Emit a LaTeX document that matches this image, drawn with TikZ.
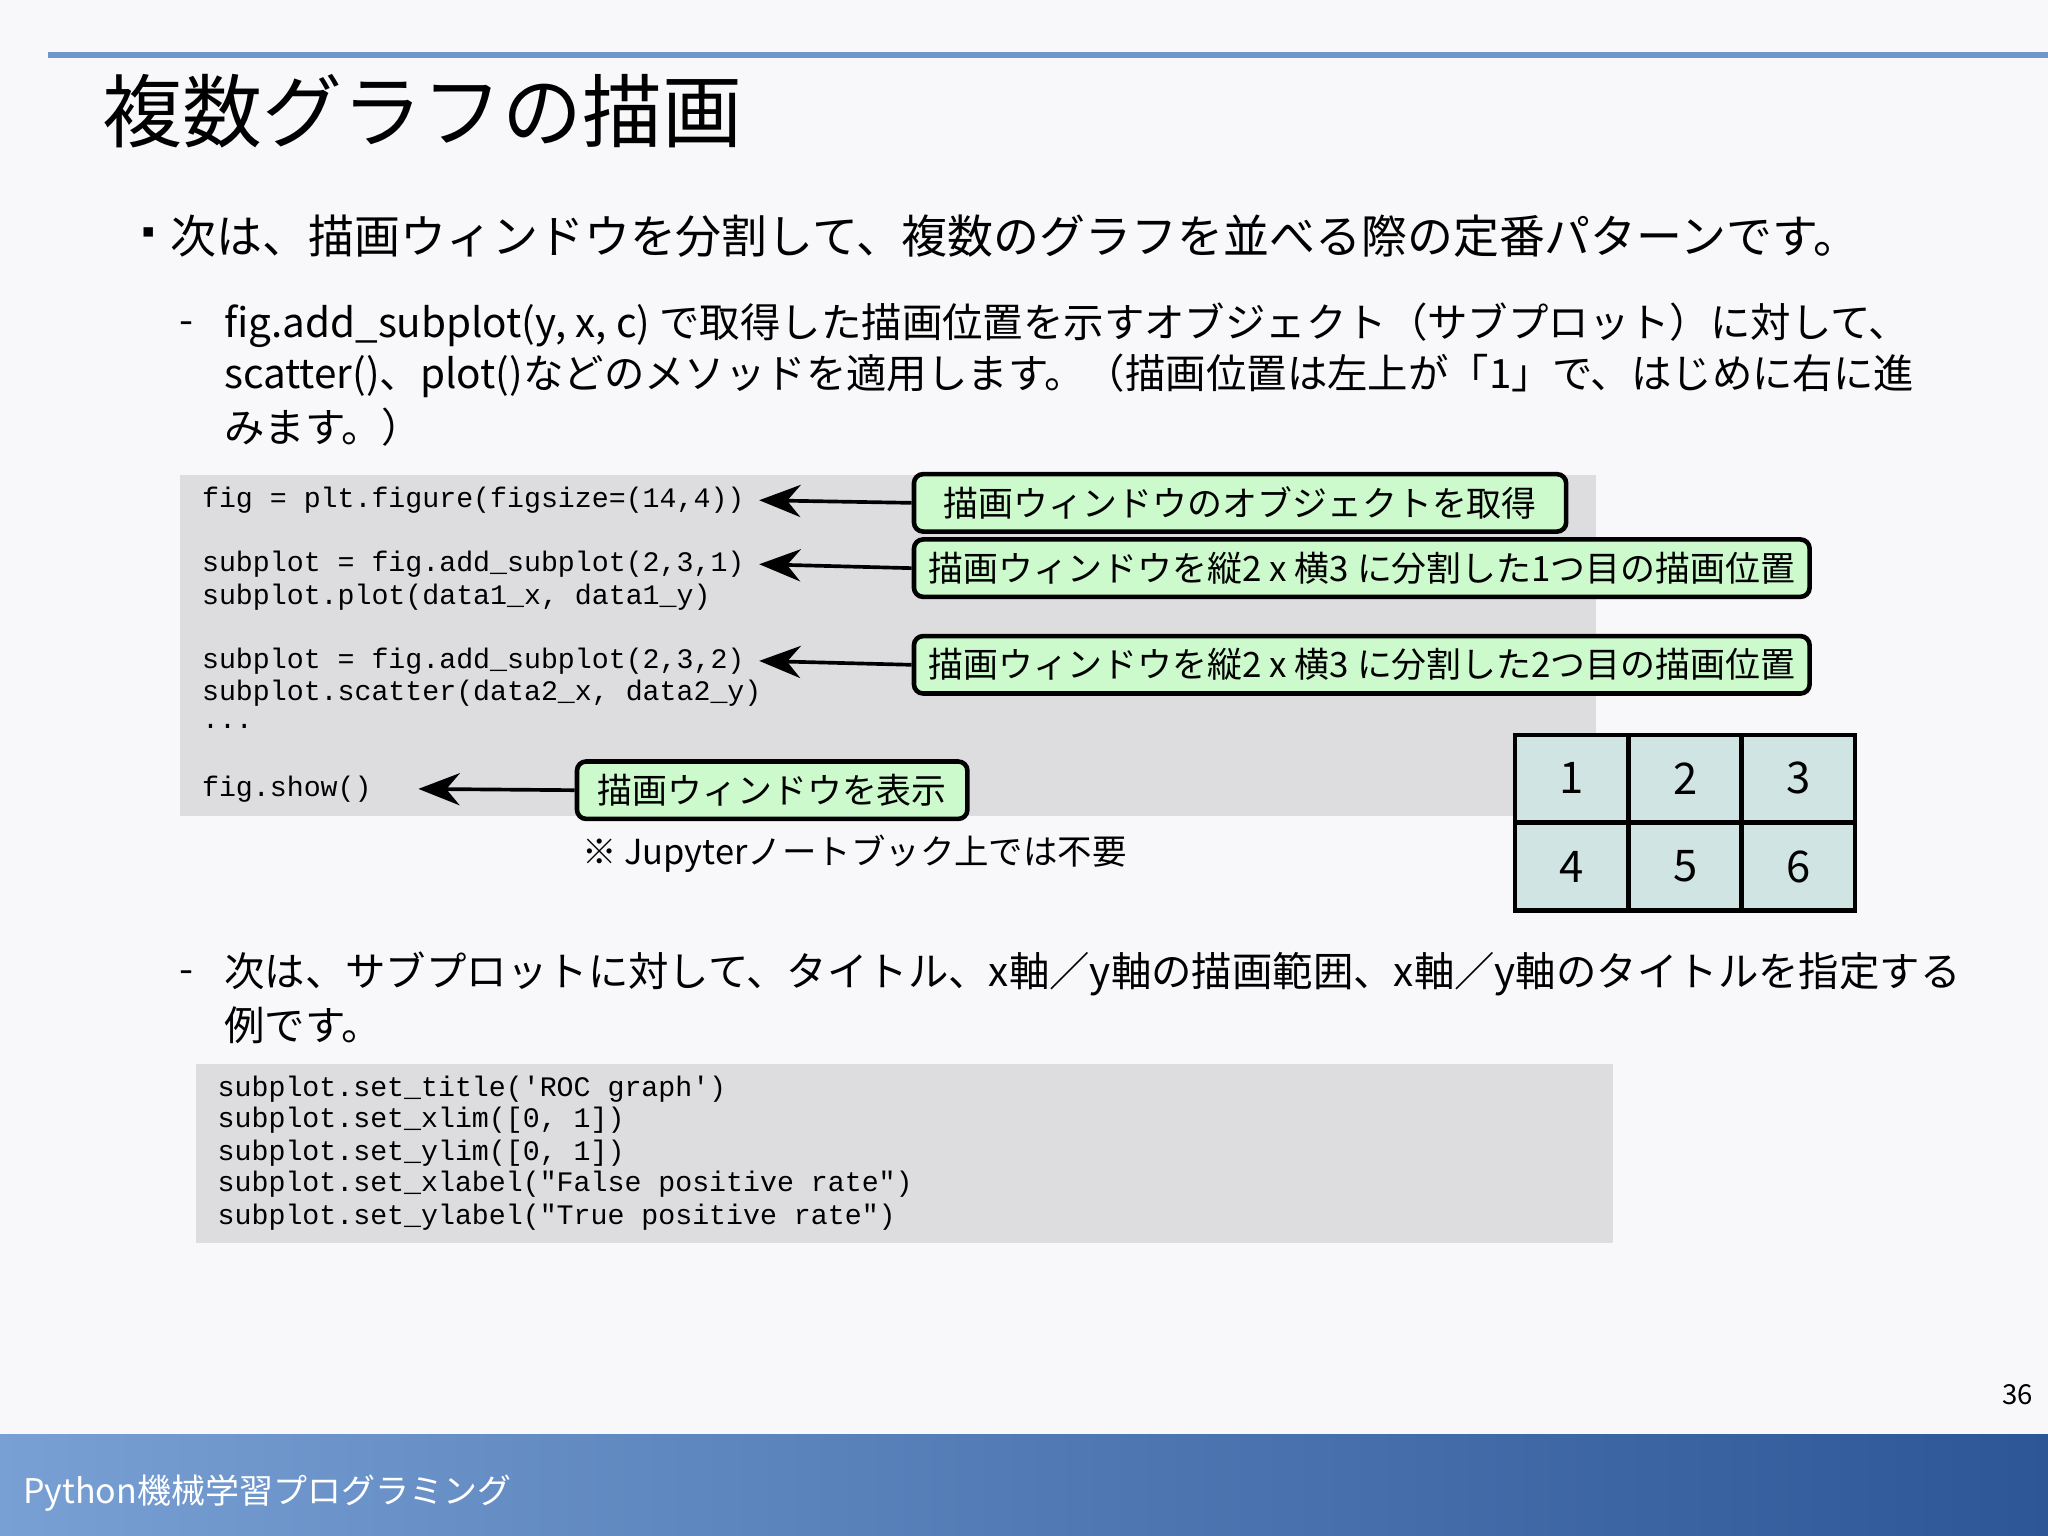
\documentclass[tikz,border=0pt]{standalone}
\usepackage{fontspec}
\usepackage{xcolor}
\setmainfont{Noto Sans CJK JP}
\setmonofont{Liberation Mono}
\usetikzlibrary{arrows.meta}
\definecolor{slidebg}{RGB}{248,248,250}
\definecolor{rulebl}{RGB}{110,150,205}
\definecolor{codebg}{RGB}{221,221,224}
\definecolor{notegr}{RGB}{204,250,204}
\definecolor{cellbl}{RGB}{208,228,228}
\definecolor{footl}{RGB}{120,160,212}
\definecolor{footd}{RGB}{44,86,150}
\tikzset{
  txt/.style={anchor=west, inner sep=0pt, font=\fontsize{8.8}{11}\selectfont},
  code/.style={anchor=west, inner sep=0pt, font=\ttfamily\fontsize{6.15}{7}\selectfont},
  note/.style={draw=black, line width=1pt, fill=notegr, rounded corners=2pt, anchor=west,
    inner sep=0pt, minimum height=12.5pt, font=\fontsize{7.6}{9}\selectfont},
  ptr/.style={-{Stealth[length=9pt,width=7pt]}, line width=0.8pt},
  cell/.style={draw=black, line width=1pt, fill=cellbl, minimum width=24.7pt,
    minimum height=19pt, inner sep=0pt, font=\fontsize{9.5}{10}\selectfont}
}
\begin{document}
\begin{tikzpicture}[x=0.01cm, y=-0.01cm]
\useasboundingbox (0,0) rectangle (1568,1176);
\fill[slidebg] (0,0) rectangle (1568,1176);
% heading
\draw[rulebl, line width=1.2pt] (37,42) -- (1568,42);
\node[txt, font=\fontsize{17.4}{20}\selectfont] (title) at (78,85) {複数グラフの描画};
% body text
\node[txt, font=\fontsize{7.5}{8}\selectfont] (bul) at (100,181) {▪};
\node[txt, font=\fontsize{10}{11}\selectfont] (t1) at (130,181) {次は、描画ウィンドウを分割して、複数のグラフを並べる際の定番パターンです。};
\node[txt] (d1) at (137,251) {-};
\node[txt] (t2) at (171,249) {fig.add\_subplot(y, x, c) で取得した描画位置を示すオブジェクト（サブプロット）に対して、};
\node[txt] (t3) at (171,288) {scatter()、plot()などのメソッドを適用します。（描画位置は左上が「1」で、はじめに右に進};
\node[txt] (t4) at (171,327) {みます。）};
% first code block
\fill[codebg] (138,364) rectangle (1222,625);
\node[code] (c1) at (154,383) {fig = plt.figure(figsize=(14,4))};
\node[code] (c2) at (154,432) {subplot = fig.add\_subplot(2,3,1)};
\node[code] (c3) at (154,457) {subplot.plot(data1\_x, data1\_y)};
\node[code] (c4) at (154,506) {subplot = fig.add\_subplot(2,3,2)};
\node[code] (c5) at (154,531) {subplot.scatter(data2\_x, data2\_y)};
\node[code] (c6) at (154,556) {...};
\node[code] (c7) at (154,604) {fig.show()};
% notes
\node[note, minimum width=142pt] (n1) at (698,385) {描画ウィンドウのオブジェクトを取得};
\node[note, minimum width=195pt] (n2) at (698,435) {描画ウィンドウを縦2 x 横3 に分割した1つ目の描画位置};
\node[note, minimum width=195pt] (n3) at (698,509) {描画ウィンドウを縦2 x 横3 に分割した2つ目の描画位置};
\node[note, minimum width=85pt] (n4) at (440,605) {描画ウィンドウを表示};
\draw[ptr] (n1.west) -- ([xshift=3pt]c1.east);
\draw[ptr] (n2.west) -- ([xshift=3pt]c2.east);
\draw[ptr] (n3.west) -- ([xshift=3pt]c4.east);
\draw[ptr] (n4.west) -- ([xshift=10pt]c7.east);
\node[txt, font=\fontsize{7.5}{10}\selectfont] (nb) at (445,654) {※ Jupyterノートブック上では不要};
% grid of subplots
\foreach \n/\c/\r in {1/0/0,2/1/0,3/2/0,4/0/1,5/1/1,6/2/1}
  \node[cell] (g\n) at (1203.5+86.7*\c,596+67.5*\r) {\n};
% second item
\node[txt] (d2) at (137,748) {-};
\node[txt] (t5) at (171,746) {次は、サブプロットに対して、タイトル、x軸／y軸の描画範囲、x軸／y軸のタイトルを指定する};
\node[txt] (t6) at (171,785) {例です。};
\fill[codebg] (150,815) rectangle (1235,952);
\node[code] (e1) at (166,834) {subplot.set\_title('ROC graph')};
\node[code] (e2) at (166,858) {subplot.set\_xlim([0, 1])};
\node[code] (e3) at (166,883) {subplot.set\_ylim([0, 1])};
\node[code] (e4) at (166,907) {subplot.set\_xlabel("False positive rate")};
\node[code] (e5) at (166,932) {subplot.set\_ylabel("True positive rate")};
% footer
\node[txt, font=\fontsize{6}{7}\selectfont, anchor=east] (pg) at (1557,1068) {36};
\shade[left color=footl, right color=footd] (0,1098) rectangle (1568,1176);
\node[txt, text=white, font=\fontsize{7.4}{10}\selectfont] (ft) at (17,1143) {Python機械学習プログラミング};
\end{tikzpicture}
\end{document}
